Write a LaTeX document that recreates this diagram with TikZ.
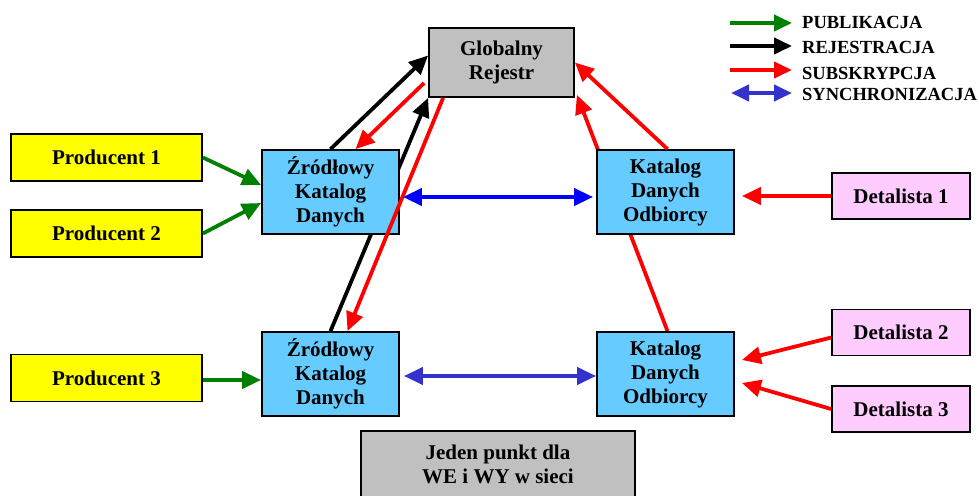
\documentclass[tikz,border=0pt]{standalone}
\usepackage{fontspec}
\setmainfont{Liberation Serif}
\usetikzlibrary{arrows.meta}
\definecolor{sky}{HTML}{66CCFF}
\definecolor{gry}{HTML}{C0C0C0}
\definecolor{pnk}{HTML}{FFCCFF}
\definecolor{ylw}{HTML}{FFFF00}
\definecolor{grn}{HTML}{008000}
\definecolor{syncb}{HTML}{3333CC}
\definecolor{blu}{HTML}{0000FF}
\definecolor{rd}{HTML}{FF0000}
\pgfdeclarelayer{bg}
\pgfsetlayers{bg,main}
\begin{document}
\begin{tikzpicture}[x=1pt,y=-1pt,
  box/.style={draw=black, line width=1.8pt, font=\bfseries\fontsize{21}{24}\selectfont, align=center, inner sep=0pt},
  catbox/.style={box, fill=sky, minimum width=137pt, minimum height=84pt},
  prodbox/.style={box, fill=ylw, minimum width=191pt, minimum height=47pt},
  detbox/.style={box, fill=pnk, minimum width=138pt, minimum height=46pt},
  conn/.style={line width=3.8pt, -{Triangle[length=19pt,width=17pt]}},
  conn2/.style={line width=3.8pt, {Triangle[length=19pt,width=17pt]}-{Triangle[length=19pt,width=17pt]}},
  leg/.style={line width=4.2pt, -{Triangle[length=18pt,width=16pt]}},
  leg2/.style={line width=4.2pt, {Triangle[length=18pt,width=16pt]}-{Triangle[length=18pt,width=16pt]}},
  legtxt/.style={font=\bfseries\fontsize{18.5}{20}\selectfont, inner sep=0pt}]
\useasboundingbox (0,0) rectangle (979,495);
\clip (0,0) rectangle (979,495);

% nodes
\node[box, fill=gry, minimum width=145pt, minimum height=69pt] (gr) at (501.5,62.5) {Globalny\\Rejestr};
\node[catbox] (zt) at (330.5,192) {Źródłowy\\Katalog\\Danych};
\node[catbox] (kt) at (665.5,192) {Katalog\\Danych\\Odbiorcy};
\node[catbox] (zb) at (330.5,374) {Źródłowy\\Katalog\\Danych};
\node[catbox] (kb) at (665.5,374) {Katalog\\Danych\\Odbiorcy};
\node[prodbox] (p1) at (106.5,157.5) {Producent 1};
\node[prodbox] (p2) at (106.5,233.5) {Producent 2};
\node[prodbox] (p3) at (106.5,378) {Producent 3};
\node[detbox] (d1) at (901,196) {Detalista 1};
\node[detbox] (d2) at (901,332.5) {Detalista 2};
\node[detbox] (d3) at (901,409) {Detalista 3};
\node[box, fill=gry, minimum width=274pt, minimum height=66pt] (jp) at (498,464) {Jeden punkt dla\\WE i WY w sieci};

% connectors hidden behind boxes
\begin{pgfonlayer}{bg}
\draw[conn, black] (zb.north) -- (gr.south west);
\draw[conn, rd] ([xshift=2pt]kb.north) -- ([xshift=2pt,yshift=3pt]gr.south east);
\end{pgfonlayer}

% publikacja
\draw[conn, grn] (p1.east) -- ([yshift=7pt]zt.west);
\draw[conn, grn] (p2.east) -- ([yshift=-11pt]zt.west);
\draw[conn, grn] ([yshift=-2pt]p3.east) -- ([yshift=-2pt]p3.east -| zb.west);
% rejestracja
\draw[conn, black] (zt.north) -- ([yshift=7pt]gr.west);
% subskrypcja
\draw[conn, rd] ([xshift=-4pt,yshift=-20.5pt]gr.west) -- ([xshift=25pt]zt.north);
\draw[conn, rd] ([xshift=15pt]gr.south west) -- ([xshift=17pt]zb.north);
\draw[conn, rd] ([xshift=2pt]kt.north) -- (gr.east);
\draw[conn, rd] (d1.west) -- ([xshift=7pt]d1.west -| kt.east);
\draw[conn, rd] ([yshift=-5pt]d2.west) -- ([xshift=7pt,yshift=14pt]kb.east);
\draw[conn, rd] (d3.west) -- ([xshift=7pt,yshift=-9pt]kb.east);
% synchronizacja
\draw[conn2, blu, shorten <=3pt, shorten >=3pt] ([yshift=-5pt]zt.east) -- ([yshift=-5pt]kt.west);
\draw[conn2, syncb, shorten <=4pt] ([yshift=-2pt]zb.east) -- ([yshift=-2pt]kb.west);

% legend
\node[legtxt, anchor=base west] (lt1) at (802,29) {PUBLIKACJA};
\node[legtxt, anchor=base west] (lt2) at (802,54) {REJESTRACJA};
\node[legtxt, anchor=base west] (lt3) at (802,79) {SUBSKRYPCJA};
\node[legtxt, anchor=base west] (lt4) at (802,100) {SYNCHRONIZACJA};
\coordinate (la1) at (730,23);
\coordinate (la2) at (730,46);
\coordinate (la3) at (730,70);
\coordinate (la4) at (731,93);
\draw[leg, grn] (la1) -- ([xshift=-10pt]la1 -| lt1.west);
\draw[leg, black] (la2) -- ([xshift=-10pt]la2 -| lt2.west);
\draw[leg, rd] (la3) -- ([xshift=-10pt]la3 -| lt3.west);
\draw[leg2, syncb] (la4) -- ([xshift=-10pt]la4 -| lt4.west);
\end{tikzpicture}
\end{document}
